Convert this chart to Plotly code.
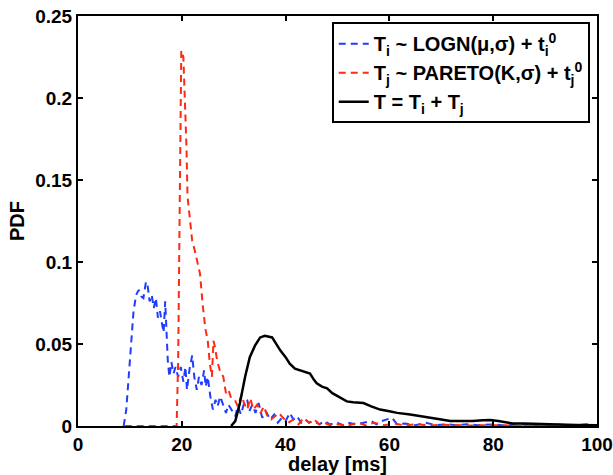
import plotly.graph_objects as go

# ---- data ----
blue_x = [8.8, 9.3, 10.0, 10.7, 11.2, 11.7, 12.2, 12.6, 13.1, 13.4, 13.8, 14.2, 14.6, 15.0, 15.4,
          15.8, 16.2, 16.5, 16.8, 17.0, 17.3, 17.6, 18.0, 18.4, 18.8, 19.3, 19.8, 20.3, 20.7, 21.0,
          21.5, 22.0, 22.4, 22.9, 23.3, 23.8, 24.3, 24.6, 25.0, 25.5, 26.0, 26.5, 26.9, 27.4, 28.0,
          28.5, 29.0, 29.5, 30.3, 30.8, 31.4, 32.0, 32.6, 33.0, 33.6, 34.2, 34.8, 35.5, 36.2, 37.0,
          37.8, 38.5, 39.3, 40.0, 40.8, 41.5, 42.2, 43.0, 43.8, 44.5, 45.5, 46.5, 47.5, 48.5, 50.0,
          51.0, 52.0, 53.5, 55.0, 56.5, 57.5, 58.5, 60.5, 61.5, 63.0, 65.0, 67.0, 69.0, 71.0, 73.0,
          75.0, 77.0, 80.0, 82.0, 85.0, 88.0, 90.0, 92.0, 95.0, 98.0, 100.0]
blue_y = [0.0, 0.01, 0.04, 0.07, 0.08, 0.083, 0.079, 0.078, 0.088, 0.086, 0.076, 0.08, 0.072, 0.078, 0.066,
          0.07, 0.062, 0.057, 0.076, 0.058, 0.04, 0.03, 0.039, 0.032, 0.036, 0.03, 0.036, 0.027, 0.036, 0.022,
          0.035, 0.043, 0.03, 0.022, 0.03, 0.025, 0.034, 0.024, 0.03, 0.018, 0.01, 0.016, 0.012, 0.018, 0.012,
          0.008, 0.013, 0.01, 0.006, 0.012, 0.007, 0.014, 0.016, 0.009, 0.013, 0.008, 0.014, 0.005, 0.009, 0.004,
          0.007, 0.002, 0.005, 0.003, 0.008, 0.004, 0.006, 0.002, 0.004, 0.002, 0.003, 0.001, 0.003, 0.001, 0.002,
          0.0005, 0.002, 0.001, 0.002, 0.003, 0.001, 0.003, 0.005, 0.001, 0.0015, 0.0005, 0.002, 0.0005, 0.001, 0.0005,
          0.001, 0.0005, 0.001, 0.0003, 0.001, 0.0003, 0.0003, 0.001, 0.0003, 0.001, 0.0003]

red_x = [9.0, 19.0, 19.3, 19.6, 19.9, 20.3, 20.6, 20.9, 21.1, 21.5, 22.0, 22.5, 23.0, 23.5, 24.0,
         24.5, 25.0, 25.4, 25.8, 26.1, 26.4, 26.8, 27.3, 28.0, 28.5, 29.0, 29.5, 30.2, 30.8, 31.5,
         32.0, 32.6, 33.2, 33.8, 34.5, 35.2, 35.8, 36.5, 37.2, 38.0, 38.7, 39.5, 40.5, 41.5, 42.5,
         43.5, 44.5, 45.5, 46.5, 47.5, 48.5, 50.0, 52.0, 54.0, 55.5, 57.0, 59.0, 61.0, 63.0, 65.0,
         68.0, 70.0, 75.0, 80.0, 85.0, 90.0, 95.0, 100.0]
red_y = [0.0, 0.0, 0.04, 0.14, 0.229, 0.225, 0.2, 0.17, 0.14, 0.126, 0.113, 0.107, 0.1, 0.093, 0.075,
         0.06, 0.052, 0.038, 0.03, 0.052, 0.048, 0.04, 0.034, 0.03, 0.02, 0.022, 0.017, 0.016, 0.012, 0.019,
         0.014, 0.01, 0.017, 0.01, 0.013, 0.008, 0.012, 0.006, 0.004, 0.006, 0.008, 0.005, 0.002, 0.004, 0.001,
         0.005, 0.002, 0.004, 0.001, 0.002, 0.0005, 0.001, 0.0003, 0.002, 0.0003, 0.002, 0.0005, 0.0015, 0.0003, 0.001,
         0.0003, 0.0008, 0.0003, 0.0005, 0.0002, 0.0005, 0.0002, 0.0003]

black_x = [29.5, 30.3, 31.2, 32.2, 33.1, 34.1, 35.1, 36.0, 37.4, 38.2, 39.0, 40.0, 40.8, 41.8, 42.8,
           43.8, 44.7, 45.5, 46.0, 47.0, 48.0, 49.0, 50.1, 51.8, 53.0, 55.0, 56.5, 58.2, 60.0, 61.5,
           64.0, 66.0, 67.8, 70.0, 71.7, 74.0, 76.0, 78.0, 79.4, 81.0, 83.8, 86.0, 90.0, 93.0, 96.0, 100.0]
black_y = [0.0, 0.003, 0.014, 0.03, 0.042, 0.049, 0.054, 0.055, 0.054, 0.05, 0.046, 0.042, 0.038, 0.035, 0.034,
           0.033, 0.032, 0.028, 0.026, 0.024, 0.023, 0.02, 0.018, 0.015, 0.0145, 0.014, 0.012, 0.01, 0.009, 0.008,
           0.007, 0.006, 0.0055, 0.004, 0.003, 0.0028, 0.003, 0.0035, 0.0037, 0.003, 0.0015, 0.0015, 0.001, 0.0008, 0.0006, 0.0005]

x_ticks = [0, 20, 40, 60, 80, 100]
y_ticks = [0, 0.05, 0.1, 0.15, 0.2, 0.25]
y_tick_labels = ["0", "0.05", "0.1", "0.15", "0.2", "0.25"]

names = [
    "T<sub>i</sub> ~ LOGN(\u03bc,\u03c3) + t<sub>i</sub><sup>0</sup>",
    "T<sub>j</sub> ~ PARETO(K,\u03c3) + t<sub>j</sub><sup>0</sup>",
    "T = T<sub>i</sub> + T<sub>j</sub>",
]

FAMILY = "Liberation Sans, Arial, Helvetica, sans-serif"

fig = go.Figure()
fig.add_trace(go.Scatter(x=blue_x, y=blue_y, mode="lines", name=names[0],
                         line=dict(color="#1f3cff", width=2, dash="7px,5px")))
fig.add_trace(go.Scatter(x=red_x, y=red_y, mode="lines", name=names[1],
                         line=dict(color="#ff2a12", width=2, dash="7px,5px")))
fig.add_trace(go.Scatter(x=black_x, y=black_y, mode="lines", name=names[2],
                         line=dict(color="black", width=2.5)))

axis_common = dict(showline=True, linecolor="black", linewidth=2, mirror="ticks",
                   ticks="inside", ticklen=5, tickwidth=2, tickcolor="black",
                   showgrid=False, zeroline=False, automargin=False,
                   tickfont=dict(family=FAMILY, size=19, color="black", weight="bold"))

fig.update_layout(
    template="none",
    width=613, height=475,
    margin=dict(l=78, r=16, t=16, b=49, autoexpand=False),
    plot_bgcolor="white", paper_bgcolor="white",
    font=dict(family=FAMILY, size=19, color="black", weight="bold"),
    xaxis=dict(range=[0, 100], tickvals=x_ticks,
               title=dict(text="delay [ms]", standoff=0,
                          font=dict(family=FAMILY, size=20, weight="bold")),
               **axis_common),
    yaxis=dict(range=[0, 0.25], tickvals=y_ticks, ticktext=y_tick_labels,
               title=dict(text="PDF", standoff=5,
                          font=dict(family=FAMILY, size=20, weight="bold")),
               **axis_common),
    legend=dict(x=0.986, y=0.985, xanchor="right", yanchor="top",
                bgcolor="white", bordercolor="black", borderwidth=2,
                font=dict(family=FAMILY, size=20, weight="bold"), tracegroupgap=0,
                itemwidth=30),
    showlegend=True,
)

fig.write_html("out.html")
